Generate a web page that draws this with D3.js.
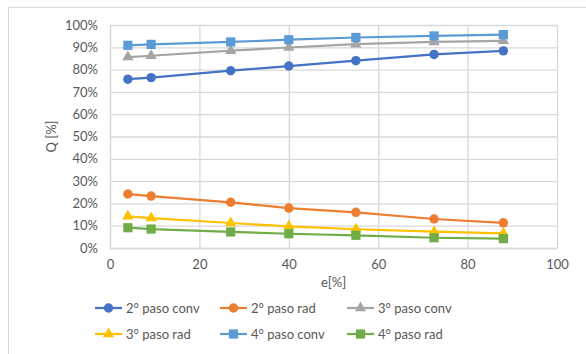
<!DOCTYPE html>
<html>
<head>
<meta charset="utf-8">
<script src="https://cdn.jsdelivr.net/npm/d3@7/dist/d3.min.js"></script>
<style>
  html, body { margin: 0; padding: 0; background: #fff; }
  svg { display: block; font-family: "Lato", "Open Sans", sans-serif; }
</style>
</head>
<body>
<svg id="chart" width="586" height="354"></svg>
<script>
// e[%] values shared by all series
const eValues = [4, 9.2, 27, 40, 55, 72.5, 88];

// Q [%] per series
const paso2Conv = [75.7, 76.4, 79.5, 81.6, 84.0, 86.8, 88.4];
const paso2Rad  = [24.2, 23.3, 20.5, 17.9, 16.0, 13.0, 11.3];
const paso3Conv = [85.6, 86.2, 88.5, 89.9, 91.4, 92.4, 92.9];
const paso3Rad  = [14.2, 13.4, 11.2, 9.7, 8.4, 7.3, 6.6];
const paso4Conv = [90.9, 91.3, 92.4, 93.4, 94.4, 95.1, 95.7];
const paso4Rad  = [9.1, 8.5, 7.2, 6.4, 5.7, 4.6, 4.2];

const seriesNames = ["2° paso conv", "2° paso rad", "3° paso conv", "3° paso rad", "4° paso conv", "4° paso rad"];
const xTicks = [0, 20, 40, 60, 80, 100];
const yTicks = [0, 10, 20, 30, 40, 50, 60, 70, 80, 90, 100];

const series = [
  { name: seriesNames[0], values: paso2Conv, color: "#4472C4", marker: "circle" },
  { name: seriesNames[1], values: paso2Rad,  color: "#ED7D31", marker: "circle" },
  { name: seriesNames[2], values: paso3Conv, color: "#A5A5A5", marker: "triangle" },
  { name: seriesNames[3], values: paso3Rad,  color: "#FFC000", marker: "triangle" },
  { name: seriesNames[4], values: paso4Conv, color: "#5B9BD5", marker: "square" },
  { name: seriesNames[5], values: paso4Rad,  color: "#70AD47", marker: "square" }
];

const svg = d3.select("#chart");

// chart frame
svg.append("rect")
  .attr("x", 8.5).attr("y", 7.5)
  .attr("width", 600).attr("height", 400)
  .attr("fill", "#fff").attr("stroke", "#d9d9d9");

const plotLeft = 110, plotRight = 557, plotTop = 25, plotBottom = 248;
const x = d3.scaleLinear().domain([0, 100]).range([plotLeft, plotRight]);
const y = d3.scaleLinear().domain([0, 100]).range([plotBottom, plotTop]);

const grid = "#d9d9d9";
const textColor = "#595959";

// gridlines
svg.append("g")
  .attr("transform", `translate(0,${plotBottom})`)
  .call(d3.axisBottom(x).tickValues(xTicks).tickSize(-(plotBottom - plotTop)).tickFormat(""))
  .call(g => g.select(".domain").remove())
  .call(g => g.selectAll("line").attr("stroke", grid).attr("stroke-width", 1.3));

svg.append("g")
  .attr("transform", `translate(${plotLeft},0)`)
  .call(d3.axisLeft(y).tickValues(yTicks).tickSize(-(plotRight - plotLeft)).tickFormat(""))
  .call(g => g.select(".domain").remove())
  .call(g => g.selectAll("line").attr("stroke", grid).attr("stroke-width", 1.3));

// axis labels
const xAxis = svg.append("g")
  .attr("transform", `translate(0,${plotBottom})`)
  .call(d3.axisBottom(x).tickValues(xTicks).tickSize(0).tickPadding(12))
  .call(g => g.select(".domain").attr("stroke", grid).attr("stroke-width", 1.3));
xAxis.selectAll("text").attr("fill", textColor).style("font-size", "13px")
  .style("font-family", "Lato, 'Open Sans', sans-serif");

const yAxis = svg.append("g")
  .attr("transform", `translate(${plotLeft},0)`)
  .call(d3.axisLeft(y).tickValues(yTicks).tickSize(0).tickPadding(12)
    .tickFormat(d => d + "%"))
  .call(g => g.select(".domain").attr("stroke", grid).attr("stroke-width", 1.3));
yAxis.selectAll("text").attr("fill", textColor).style("font-size", "13px")
  .style("font-family", "Lato, 'Open Sans', sans-serif");

// axis titles
svg.append("text")
  .attr("x", (plotLeft + plotRight) / 2).attr("y", 287)
  .attr("text-anchor", "middle").attr("fill", textColor)
  .style("font-size", "13px").text("e[%]");

svg.append("text")
  .attr("transform", `translate(56,${(plotTop + plotBottom) / 2}) rotate(-90)`)
  .attr("text-anchor", "middle").attr("fill", textColor)
  .style("font-size", "13px").text("Q [%]");

// marker shapes
const symbolFor = m => m === "circle" ? d3.symbolCircle : m === "triangle" ? d3.symbolTriangle : d3.symbolSquare;
const sizeFor = m => m === "circle" ? 70 : m === "triangle" ? 55 : 85;

const line = d3.line().x((d, i) => x(eValues[i])).y(d => y(d));

series.forEach(s => {
  const g = svg.append("g");
  g.append("path")
    .attr("d", line(s.values))
    .attr("fill", "none").attr("stroke", s.color).attr("stroke-width", 2.2);
  g.selectAll("path.m").data(s.values).enter().append("path")
    .attr("class", "m")
    .attr("transform", (d, i) => `translate(${x(eValues[i])},${y(d)})`)
    .attr("d", d3.symbol().type(symbolFor(s.marker)).size(sizeFor(s.marker)))
    .attr("fill", s.color);
});

// legend
const colX = [95, 220, 347];
const rowY = [308, 334];
series.forEach((s, i) => {
  const lx = colX[i % 3], ly = rowY[Math.floor(i / 3)];
  const g = svg.append("g").attr("transform", `translate(${lx},${ly})`);
  g.append("line").attr("x1", 0).attr("x2", 27).attr("y1", 0).attr("y2", 0)
    .attr("stroke", s.color).attr("stroke-width", 2.2);
  g.append("path")
    .attr("transform", "translate(13.5,0)")
    .attr("d", d3.symbol().type(symbolFor(s.marker)).size(sizeFor(s.marker)))
    .attr("fill", s.color);
  g.append("text").attr("x", 31).attr("y", 4.5)
    .attr("fill", textColor).style("font-size", "13px").text(s.name);
});
</script>
</body>
</html>
